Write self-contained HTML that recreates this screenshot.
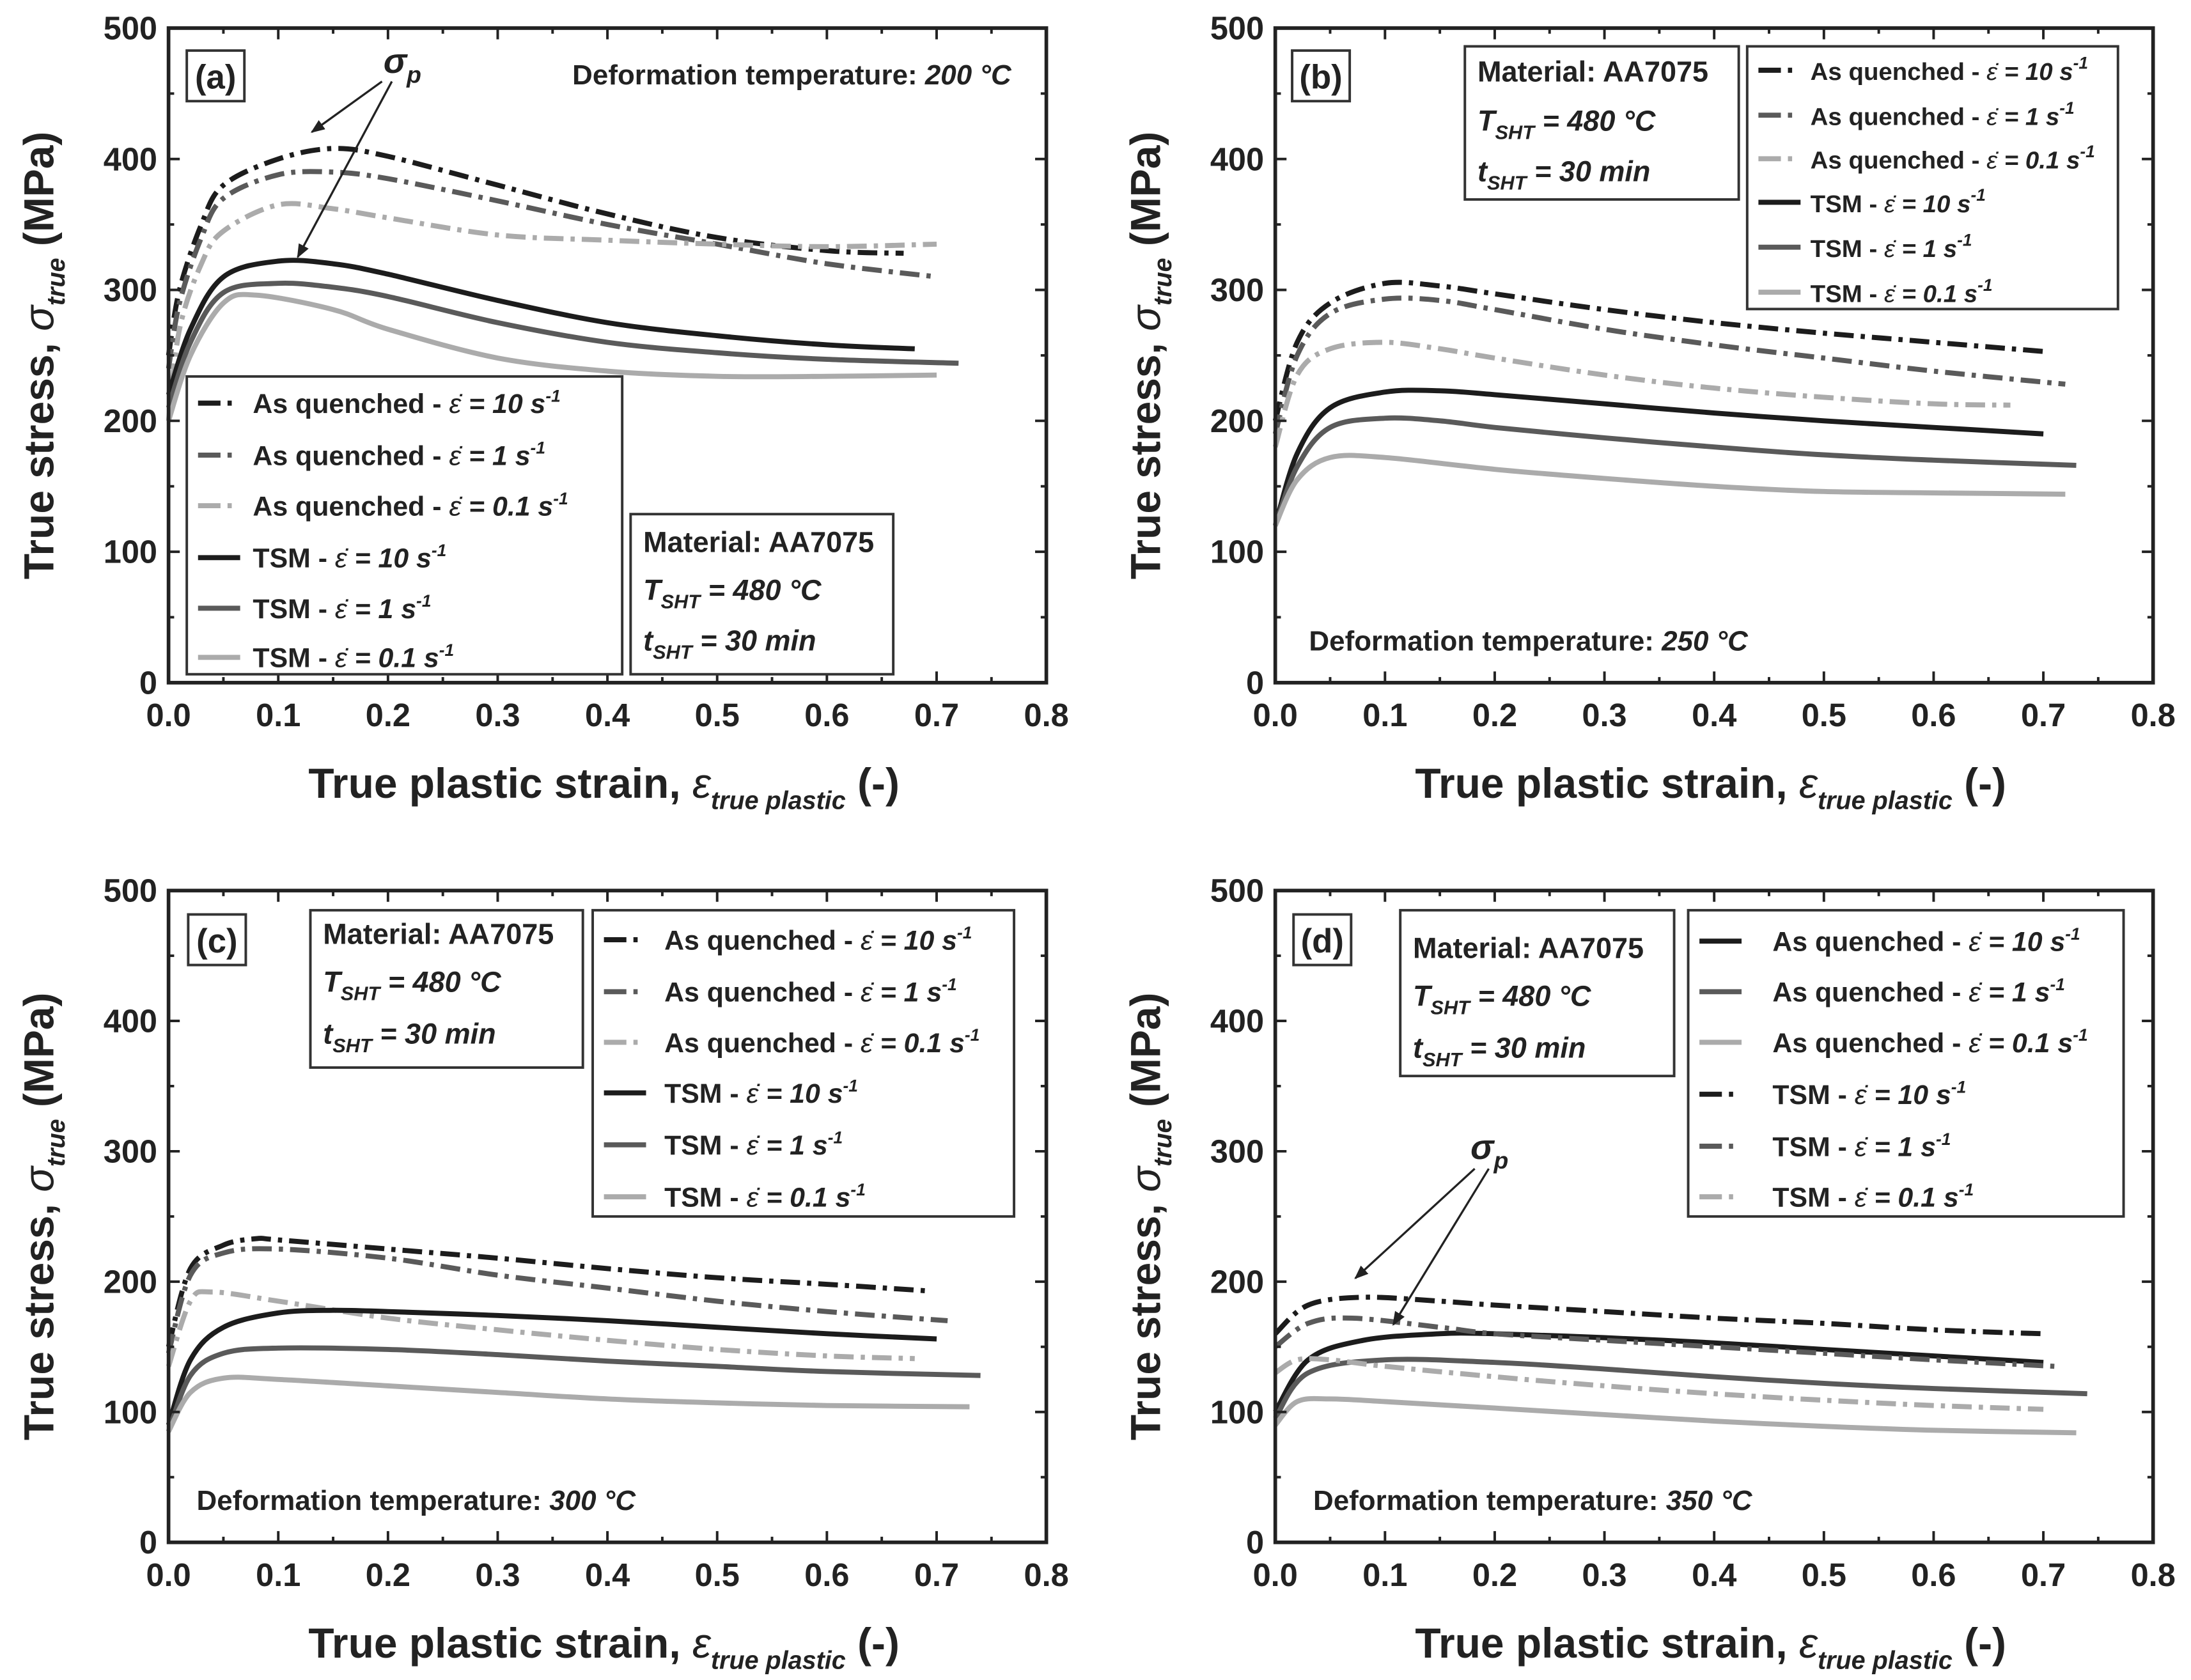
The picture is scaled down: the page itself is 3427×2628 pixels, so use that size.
<!DOCTYPE html>
<html><head><meta charset="utf-8">
<style>
html,body{margin:0;padding:0;background:#fff;}
svg{display:block;}
text{font-family:"Liberation Sans",Arial,sans-serif;font-weight:bold;fill:#222;}
</style></head>
<body>
<svg id="fig" width="3427" height="2628" viewBox="0 0 1560 1196" preserveAspectRatio="none" xmlns="http://www.w3.org/2000/svg"></svg>
<script>
// ---- data (strain, true stress MPa) ----
const xTicks = ["0.0","0.1","0.2","0.3","0.4","0.5","0.6","0.7","0.8"];
const yTicks = ["0","100","200","300","400","500"];
// Panel (a) 200 °C
const aStrain_AQ10 = [0,0.01,0.03,0.05,0.1,0.15,0.2,0.3,0.4,0.5,0.6,0.67];
const aStress_AQ10 = [250,300,350,380,400,408,402,380,358,340,330,328];
const aStrain_AQ1 = [0,0.01,0.03,0.05,0.1,0.15,0.2,0.3,0.4,0.5,0.6,0.7];
const aStress_AQ1 = [240,290,340,370,388,390,385,368,350,335,320,310];
const aStrain_AQ01 = [0,0.01,0.03,0.05,0.1,0.15,0.2,0.3,0.4,0.5,0.6,0.7];
const aStress_AQ01 = [200,270,320,345,365,362,355,342,338,335,333,335];
const aStrain_T10 = [0,0.02,0.05,0.1,0.15,0.2,0.3,0.4,0.5,0.6,0.68];
const aStress_T10 = [220,270,310,322,320,312,292,275,265,258,255];
const aStrain_T1 = [0,0.02,0.05,0.1,0.15,0.2,0.3,0.4,0.5,0.6,0.72];
const aStress_T1 = [210,260,298,305,302,295,275,260,252,247,244];
const aStrain_T01 = [0,0.02,0.05,0.08,0.15,0.2,0.3,0.4,0.5,0.6,0.7];
const aStress_T01 = [200,250,290,296,285,270,248,238,234,234,235];
// Panel (b) 250 °C
const bStrain_AQ10 = [0,0.02,0.05,0.1,0.15,0.2,0.3,0.4,0.5,0.6,0.7];
const bStress_AQ10 = [200,260,290,305,303,297,285,275,267,260,253];
const bStrain_AQ1 = [0,0.02,0.05,0.1,0.15,0.2,0.3,0.4,0.5,0.6,0.72];
const bStress_AQ1 = [190,250,282,293,292,285,270,258,248,238,228];
const bStrain_AQ01 = [0,0.02,0.05,0.1,0.15,0.2,0.3,0.4,0.5,0.6,0.67];
const bStress_AQ01 = [180,235,255,260,255,248,235,225,218,213,212];
const bStrain_T10 = [0,0.02,0.05,0.1,0.15,0.2,0.3,0.4,0.5,0.6,0.7];
const bStress_T10 = [120,175,210,222,223,220,213,206,200,195,190];
const bStrain_T1 = [0,0.02,0.05,0.1,0.15,0.2,0.3,0.4,0.5,0.6,0.73];
const bStress_T1 = [120,165,195,202,200,195,187,180,174,170,166];
const bStrain_T01 = [0,0.02,0.05,0.1,0.2,0.3,0.4,0.5,0.6,0.72];
const bStress_T01 = [120,155,172,172,163,156,150,146,145,144];
// Panel (c) 300 °C
const cStrain_AQ10 = [0,0.02,0.05,0.08,0.1,0.2,0.3,0.4,0.5,0.6,0.69];
const cStress_AQ10 = [150,210,228,233,232,225,218,210,203,198,193];
const cStrain_AQ1 = [0,0.02,0.05,0.1,0.2,0.3,0.4,0.5,0.6,0.71];
const cStress_AQ1 = [145,205,222,225,218,205,195,185,177,170];
const cStrain_AQ01 = [0,0.02,0.04,0.1,0.2,0.3,0.4,0.5,0.6,0.68];
const cStress_AQ01 = [135,185,192,185,172,163,155,148,143,141];
const cStrain_T10 = [0,0.02,0.05,0.1,0.15,0.2,0.3,0.4,0.5,0.6,0.7];
const cStress_T10 = [90,140,165,176,178,177,174,170,165,160,156];
const cStrain_T1 = [0,0.02,0.05,0.1,0.2,0.3,0.4,0.5,0.6,0.74];
const cStress_T1 = [85,128,145,149,148,144,139,135,131,128];
const cStrain_T01 = [0,0.02,0.05,0.1,0.2,0.3,0.4,0.5,0.6,0.73];
const cStress_T01 = [85,115,126,125,120,115,110,107,105,104];
// Panel (d) 350 °C
const dStrain_AQ10 = [0,0.03,0.08,0.15,0.2,0.3,0.4,0.5,0.6,0.7];
const dStress_AQ10 = [100,140,155,160,160,157,153,148,143,138];
const dStrain_AQ1 = [0,0.03,0.1,0.2,0.3,0.4,0.5,0.6,0.74];
const dStress_AQ1 = [95,130,140,138,133,127,122,118,114];
const dStrain_AQ01 = [0,0.02,0.05,0.1,0.2,0.3,0.4,0.5,0.6,0.73];
const dStress_AQ01 = [90,108,110,108,103,98,93,89,86,84];
const dStrain_T10 = [0,0.03,0.08,0.15,0.2,0.3,0.4,0.5,0.6,0.7];
const dStress_T10 = [160,182,188,185,182,177,172,168,163,160];
const dStrain_T1 = [0,0.03,0.07,0.15,0.2,0.3,0.4,0.5,0.6,0.71];
const dStress_T1 = [150,168,172,165,160,155,150,145,140,135];
const dStrain_T01 = [0,0.02,0.05,0.1,0.2,0.3,0.4,0.5,0.6,0.7];
const dStress_T01 = [130,140,140,135,127,120,114,109,105,102];

const NS="http://www.w3.org/2000/svg";
const svg=document.getElementById('fig');
const BLACK="#1c1c1c",DARK="#5a5a5a",LIGHT="#ababab",DD="14,5,3,5";
function el(tag,attrs,parent){const e=document.createElementNS(NS,tag);for(const k in attrs)e.setAttribute(k,attrs[k]);(parent||svg).appendChild(e);return e;}
function smooth(pts){
  let d='M'+pts[0][0].toFixed(1)+','+pts[0][1].toFixed(1);
  for(let i=0;i<pts.length-1;i++){
    const p0=pts[Math.max(0,i-1)],p1=pts[i],p2=pts[i+1],p3=pts[Math.min(pts.length-1,i+2)];
    const c1=[p1[0]+(p2[0]-p0[0])/6,p1[1]+(p2[1]-p0[1])/6];
    const c2=[p2[0]-(p3[0]-p1[0])/6,p2[1]-(p3[1]-p1[1])/6];
    d+='C'+c1[0].toFixed(1)+','+c1[1].toFixed(1)+' '+c2[0].toFixed(1)+','+c2[1].toFixed(1)+' '+p2[0].toFixed(1)+','+p2[1].toFixed(1);
  }
  return d;
}

function panel(P){
  const g=el('g',{});
  
  
  const L=P.x0,R=P.x0+625,T=P.y0,B=P.y0+(P.h);
  const sx=v=>L+v/0.8*625, sy=v=>B-v/500*P.h;
  P.series.forEach(s=>{
    const pts=s.x.map((v,i)=>[sx(v),sy(s.y[i])]);
    const p=el('path',{d:smooth(pts),fill:'none',stroke:s.c,'stroke-width':3.6,'stroke-linejoin':'round'},g);
    if(s.dash)p.setAttribute('stroke-dasharray',DD);
    
    
  });
  const fr=el('rect',{x:L,y:T,width:625,height:P.h,fill:'none',stroke:'#222','stroke-width':2.6},g);
  
  
  for(let i=0;i<=16;i++){const v=i*0.05,x=sx(v),len=i%2?4:8;
    el('line',{x1:x,y1:B,x2:x,y2:B-len,stroke:'#222','stroke-width':1.8},g);
    el('line',{x1:x,y1:T,x2:x,y2:T+len,stroke:'#222','stroke-width':1.8},g);}
  for(let i=0;i<=10;i++){const v=i*50,y=sy(v),len=i%2?4:8;
    el('line',{x1:L,y1:y,x2:L+len,y2:y,stroke:'#222','stroke-width':1.8},g);
    el('line',{x1:R,y1:y,x2:R-len,y2:y,stroke:'#222','stroke-width':1.8},g);}
  xTicks.forEach((t,i)=>{const tx=el('text',{x:sx(i*0.1),y:B+31,'text-anchor':'middle','font-size':23},g);tx.textContent=t;
    
    });
  yTicks.forEach((t,i)=>{const tx=el('text',{x:L-8,y:sy(i*100)+8,'text-anchor':'end','font-size':23},g);tx.textContent=t;
    
    });
  const xt=el('text',{x:L+310,y:B+82,'text-anchor':'middle','font-size':30},g);
  xt.innerHTML='True plastic strain, <tspan font-style="italic" font-weight="normal">ε</tspan><tspan font-style="italic" font-size="18" dy="8">true plastic</tspan><tspan dy="-8"> (-)</tspan>';
  
  
  const yt=el('text',{x:0,y:0,'text-anchor':'middle','font-size':30,transform:`translate(${L-82},${T+P.h/2}) rotate(-90)`},g);
  yt.innerHTML='True stress, <tspan font-style="italic" font-weight="normal">σ</tspan><tspan font-style="italic" font-size="18" dy="8">true</tspan><tspan dy="-8"> (MPa)</tspan>';
  
  
  const lb=el('rect',{x:L+P.lab[0],y:T+P.lab[1],width:41,height:36,fill:'#fff',stroke:'#333','stroke-width':1.8},g);
  
  
  const lt=el('text',{x:L+P.lab[0]+20.5,y:T+P.lab[1]+27,'text-anchor':'middle','font-size':24,'font-weight':'normal'},g);lt.textContent='('+P.id+')';
  
  
  const tt=el('text',{x:P.temp[0],y:P.temp[1],'font-size':20,'text-anchor':P.temp[2]||'start'},g);
  tt.innerHTML='Deformation temperature: <tspan font-style="italic">'+P.tempV+' °C</tspan>';
  
  
  const m=P.mat;
  const mb=el('rect',{x:m[0],y:m[1],width:m[2],height:m[3],fill:'#fff',stroke:'#333','stroke-width':1.8},g);
  
  
  const lines=['Material: AA7075','<tspan font-style="italic">T</tspan><tspan font-style="italic" font-size="14" dy="6">SHT</tspan><tspan dy="-6" font-style="italic"> = 480 °C</tspan>','<tspan font-style="italic">t</tspan><tspan font-style="italic" font-size="14" dy="6">SHT</tspan><tspan dy="-6" font-style="italic"> = 30 min</tspan>'];
  lines.forEach((s,i)=>{const t=el('text',{x:m[0]+9,y:m[4][i],'font-size':20.5},g);t.innerHTML=s;
    
    });
  const lg=P.leg;
  const lr=el('rect',{x:lg[0],y:lg[1],width:lg[2],height:lg[3],fill:'#fff',stroke:'#333','stroke-width':1.8},g);
  
  
  P.series.forEach((s,i)=>{const y=lg[4][i];
    const ln=el('line',{x1:lg[0]+8,y1:y,x2:lg[0]+38,y2:y,stroke:s.c,'stroke-width':3.6},g);
    if(s.dash)ln.setAttribute('stroke-dasharray','16,5,3,20');
    
    
    const t=el('text',{x:lg[0]+lg[5],y:y+7,'font-size':lg[6]},g);
    t.innerHTML=s.lab+' - <tspan font-style="italic" font-weight="normal">ε̇</tspan><tspan font-style="italic"> = '+s.r+' s</tspan><tspan font-style="italic" font-size="12" dy="-8">-1</tspan>';
    
    
  });
  return g;
}
function S(n,x,y,c,dash,lab,r){return {n,x,y,c,dash,lab,r};}
const aq='As quenched',ts='TSM';
panel({id:'a',x0:120,y0:20,h:466,lab:[13,16],temp:[720,60,'end'],tempV:'200',
  mat:[449,366,187,114,[393,427,463]],leg:[133,268,310,212,[287,324,360,397,433,468],47,19.5],
  series:[S('aq-10',aStrain_AQ10,aStress_AQ10,BLACK,1,aq,'10'),S('aq-1',aStrain_AQ1,aStress_AQ1,DARK,1,aq,'1'),
  S('aq-0.1',aStrain_AQ01,aStress_AQ01,LIGHT,1,aq,'0.1'),S('tsm-10',aStrain_T10,aStress_T10,BLACK,0,ts,'10'),
  S('tsm-1',aStrain_T1,aStress_T1,DARK,0,ts,'1'),S('tsm-0.1',aStrain_T01,aStress_T01,LIGHT,0,ts,'0.1')]});
panel({id:'b',x0:908,y0:20,h:466,lab:[12,16],temp:[932,463],tempV:'250',
  mat:[1043,33,195,109,[58,93,129]],leg:[1244,33,264,187,[50,82,113,144,176,208],45,17.5],
  series:[S('aq-10',bStrain_AQ10,bStress_AQ10,BLACK,1,aq,'10'),S('aq-1',bStrain_AQ1,bStress_AQ1,DARK,1,aq,'1'),
  S('aq-0.1',bStrain_AQ01,bStress_AQ01,LIGHT,1,aq,'0.1'),S('tsm-10',bStrain_T10,bStress_T10,BLACK,0,ts,'10'),
  S('tsm-1',bStrain_T1,bStress_T1,DARK,0,ts,'1'),S('tsm-0.1',bStrain_T01,bStress_T01,LIGHT,0,ts,'0.1')]});
panel({id:'c',x0:120,y0:634,h:464,lab:[14,17],temp:[140,1075],tempV:'300',
  mat:[221,648,194,112,[672,706,743]],leg:[422,648,300,218,[669,706,742,778,815,852],51,19.5],
  series:[S('aq-10',cStrain_AQ10,cStress_AQ10,BLACK,1,aq,'10'),S('aq-1',cStrain_AQ1,cStress_AQ1,DARK,1,aq,'1'),
  S('aq-0.1',cStrain_AQ01,cStress_AQ01,LIGHT,1,aq,'0.1'),S('tsm-10',cStrain_T10,cStress_T10,BLACK,0,ts,'10'),
  S('tsm-1',cStrain_T1,cStress_T1,DARK,0,ts,'1'),S('tsm-0.1',cStrain_T01,cStress_T01,LIGHT,0,ts,'0.1')]});
panel({id:'d',x0:908,y0:634,h:464,lab:[13,17],temp:[935,1075],tempV:'350',
  mat:[997,648,195,118,[682,716,753]],leg:[1202,648,310,218,[670,706,742,779,816,852],60,19.5],
  series:[S('aq-10',dStrain_AQ10,dStress_AQ10,BLACK,0,aq,'10'),S('aq-1',dStrain_AQ1,dStress_AQ1,DARK,0,aq,'1'),
  S('aq-0.1',dStrain_AQ01,dStress_AQ01,LIGHT,0,aq,'0.1'),S('tsm-10',dStrain_T10,dStress_T10,BLACK,1,ts,'10'),
  S('tsm-1',dStrain_T1,dStress_T1,DARK,1,ts,'1'),S('tsm-0.1',dStrain_T01,dStress_T01,LIGHT,1,ts,'0.1')]});

const defs=el('defs',{});
const mk=el('marker',{id:'ah',markerWidth:10,markerHeight:8,refX:9,refY:4,orient:'auto',markerUnits:'userSpaceOnUse'},defs);
el('path',{d:'M0,0 L10,4 L0,8 Z',fill:'#222'},mk);
function sigp(tx,ty,arrows){
  const t=el('text',{x:tx,y:ty,'font-size':25,'font-style':'italic'});
  t.innerHTML='σ<tspan font-size="17" dy="7">p</tspan>';
  
  
  arrows.forEach(a=>{const l=el('line',{x1:a[0],y1:a[1],x2:a[2],y2:a[3],stroke:'#222','stroke-width':1.5,'marker-end':'url(#ah)'});
    
    });
}
sigp(273,52,[[272,58,222,94],[279,58,212,183]]);
sigp(1047,825,[[1050,832,965,910],[1060,832,992,943]]);
</script>
</body></html>
